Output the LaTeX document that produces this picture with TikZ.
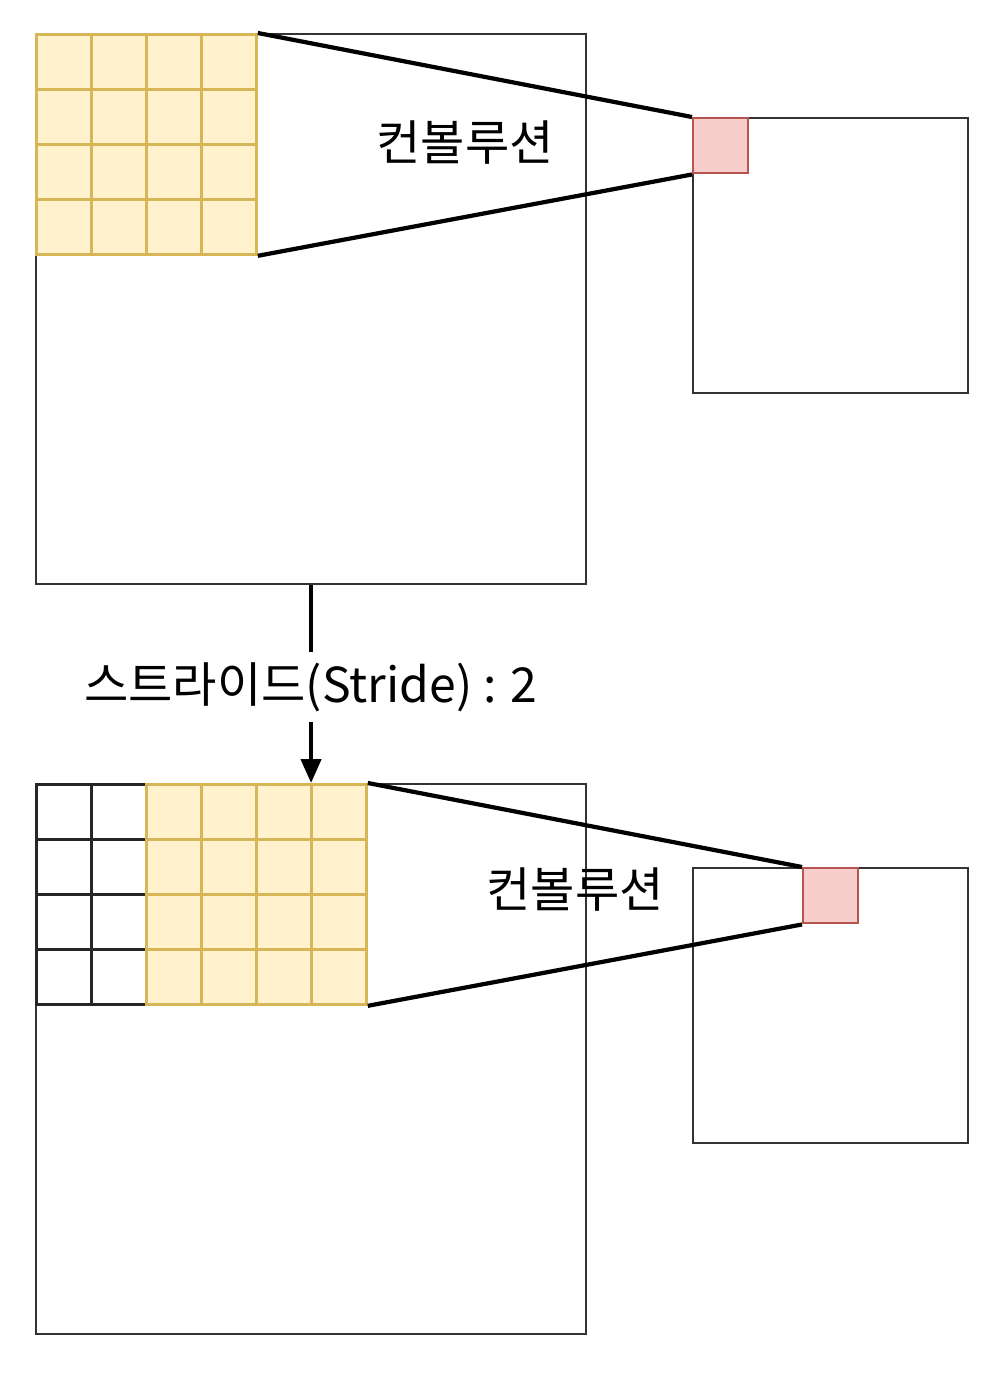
\documentclass[tikz,border=0pt]{standalone}
\usepackage{fontspec}
\newfontfamily\cjk{Noto Sans CJK KR}
\usetikzlibrary{positioning,arrows.meta}
\definecolor{kfill}{HTML}{FFF2CC}
\definecolor{kline}{HTML}{D6B656}
\definecolor{pfill}{HTML}{F8CECC}
\definecolor{pline}{HTML}{B85450}
\tikzset{
  plane/.style={
    shape=rectangle,
    draw=black!80,
    line width=0.6pt,
    minimum size=5.5cm,
    inner sep=0pt,
    anchor=north west,
  },
  fmap/.style={
    plane, minimum size=2.75cm
  },
  kcell/.style={
    draw=kline, fill=kfill, line width=0.8pt, minimum size=0.55cm, inner sep=0pt, anchor=north west
  },
  wcell/.style={
    draw=black!85, line width=0.8pt, minimum size=0.55cm, inner sep=0pt, anchor=north west
  },
  pix/.style={
    draw=pline, fill=pfill, line width=0.7pt, minimum size=0.55cm, inner sep=0pt, anchor=north west
  },
  conv/.style={line width=1.2pt},
  lbl/.style={font=\cjk\fontsize{13.7}{16}\selectfont, inner sep=1pt}
}

\begin{document}
\begin{tikzpicture}
\useasboundingbox (0,0) rectangle (9.98,-13.74);

% Input planes
\node[plane] (inA) at (0.35,-0.33) {};
\node[plane] (inB) at (0.35,-7.83) {};

% Output planes
\node[fmap] (outA) at (6.92,-1.17) {};
\node[fmap] (outB) at (6.92,-8.67) {};

% Kernel, first position
\foreach \i in {0,...,3}
  \foreach \j in {0,...,3}
    \node[kcell] (ka-\i-\j) at ({0.35+0.55*\i},{-0.33-0.55*\j}) {};

% Skipped cells
\foreach \i in {0,1}
  \foreach \j in {0,...,3}
    \node[wcell] (wb-\i-\j) at ({0.35+0.55*\i},{-7.83-0.55*\j}) {};

% Kernel, second position
\foreach \i in {0,...,3}
  \foreach \j in {0,...,3}
    \node[kcell] (kb-\i-\j) at ({1.45+0.55*\i},{-7.83-0.55*\j}) {};

% Output pixels
\node[pix] (pxA) at (6.92,-1.17) {};
\node[pix] (pxB) at (8.02,-8.67) {};

% Convolution
\draw[conv] (ka-3-0.north east) -- (pxA.north west);
\draw[conv] (ka-3-3.south east) -- (pxA.south west);
\draw[conv] (kb-3-0.north east) -- (pxB.north west);
\draw[conv] (kb-3-3.south east) -- (pxB.south west);
\node[lbl] (convA) at (4.65,-1.43) {컨볼루션};
\node[lbl] (convB) at (5.75,-8.90) {컨볼루션};

% Stride
\draw[line width=1.2pt, -{Triangle[length=0.24cm, width=0.2cm]}] (inA.south) -- (inB.north)
  node[lbl, pos=0.515, fill=white, inner sep=3pt] (stride) {스트라이드(Stride) : 2};

\end{tikzpicture}
\end{document}
